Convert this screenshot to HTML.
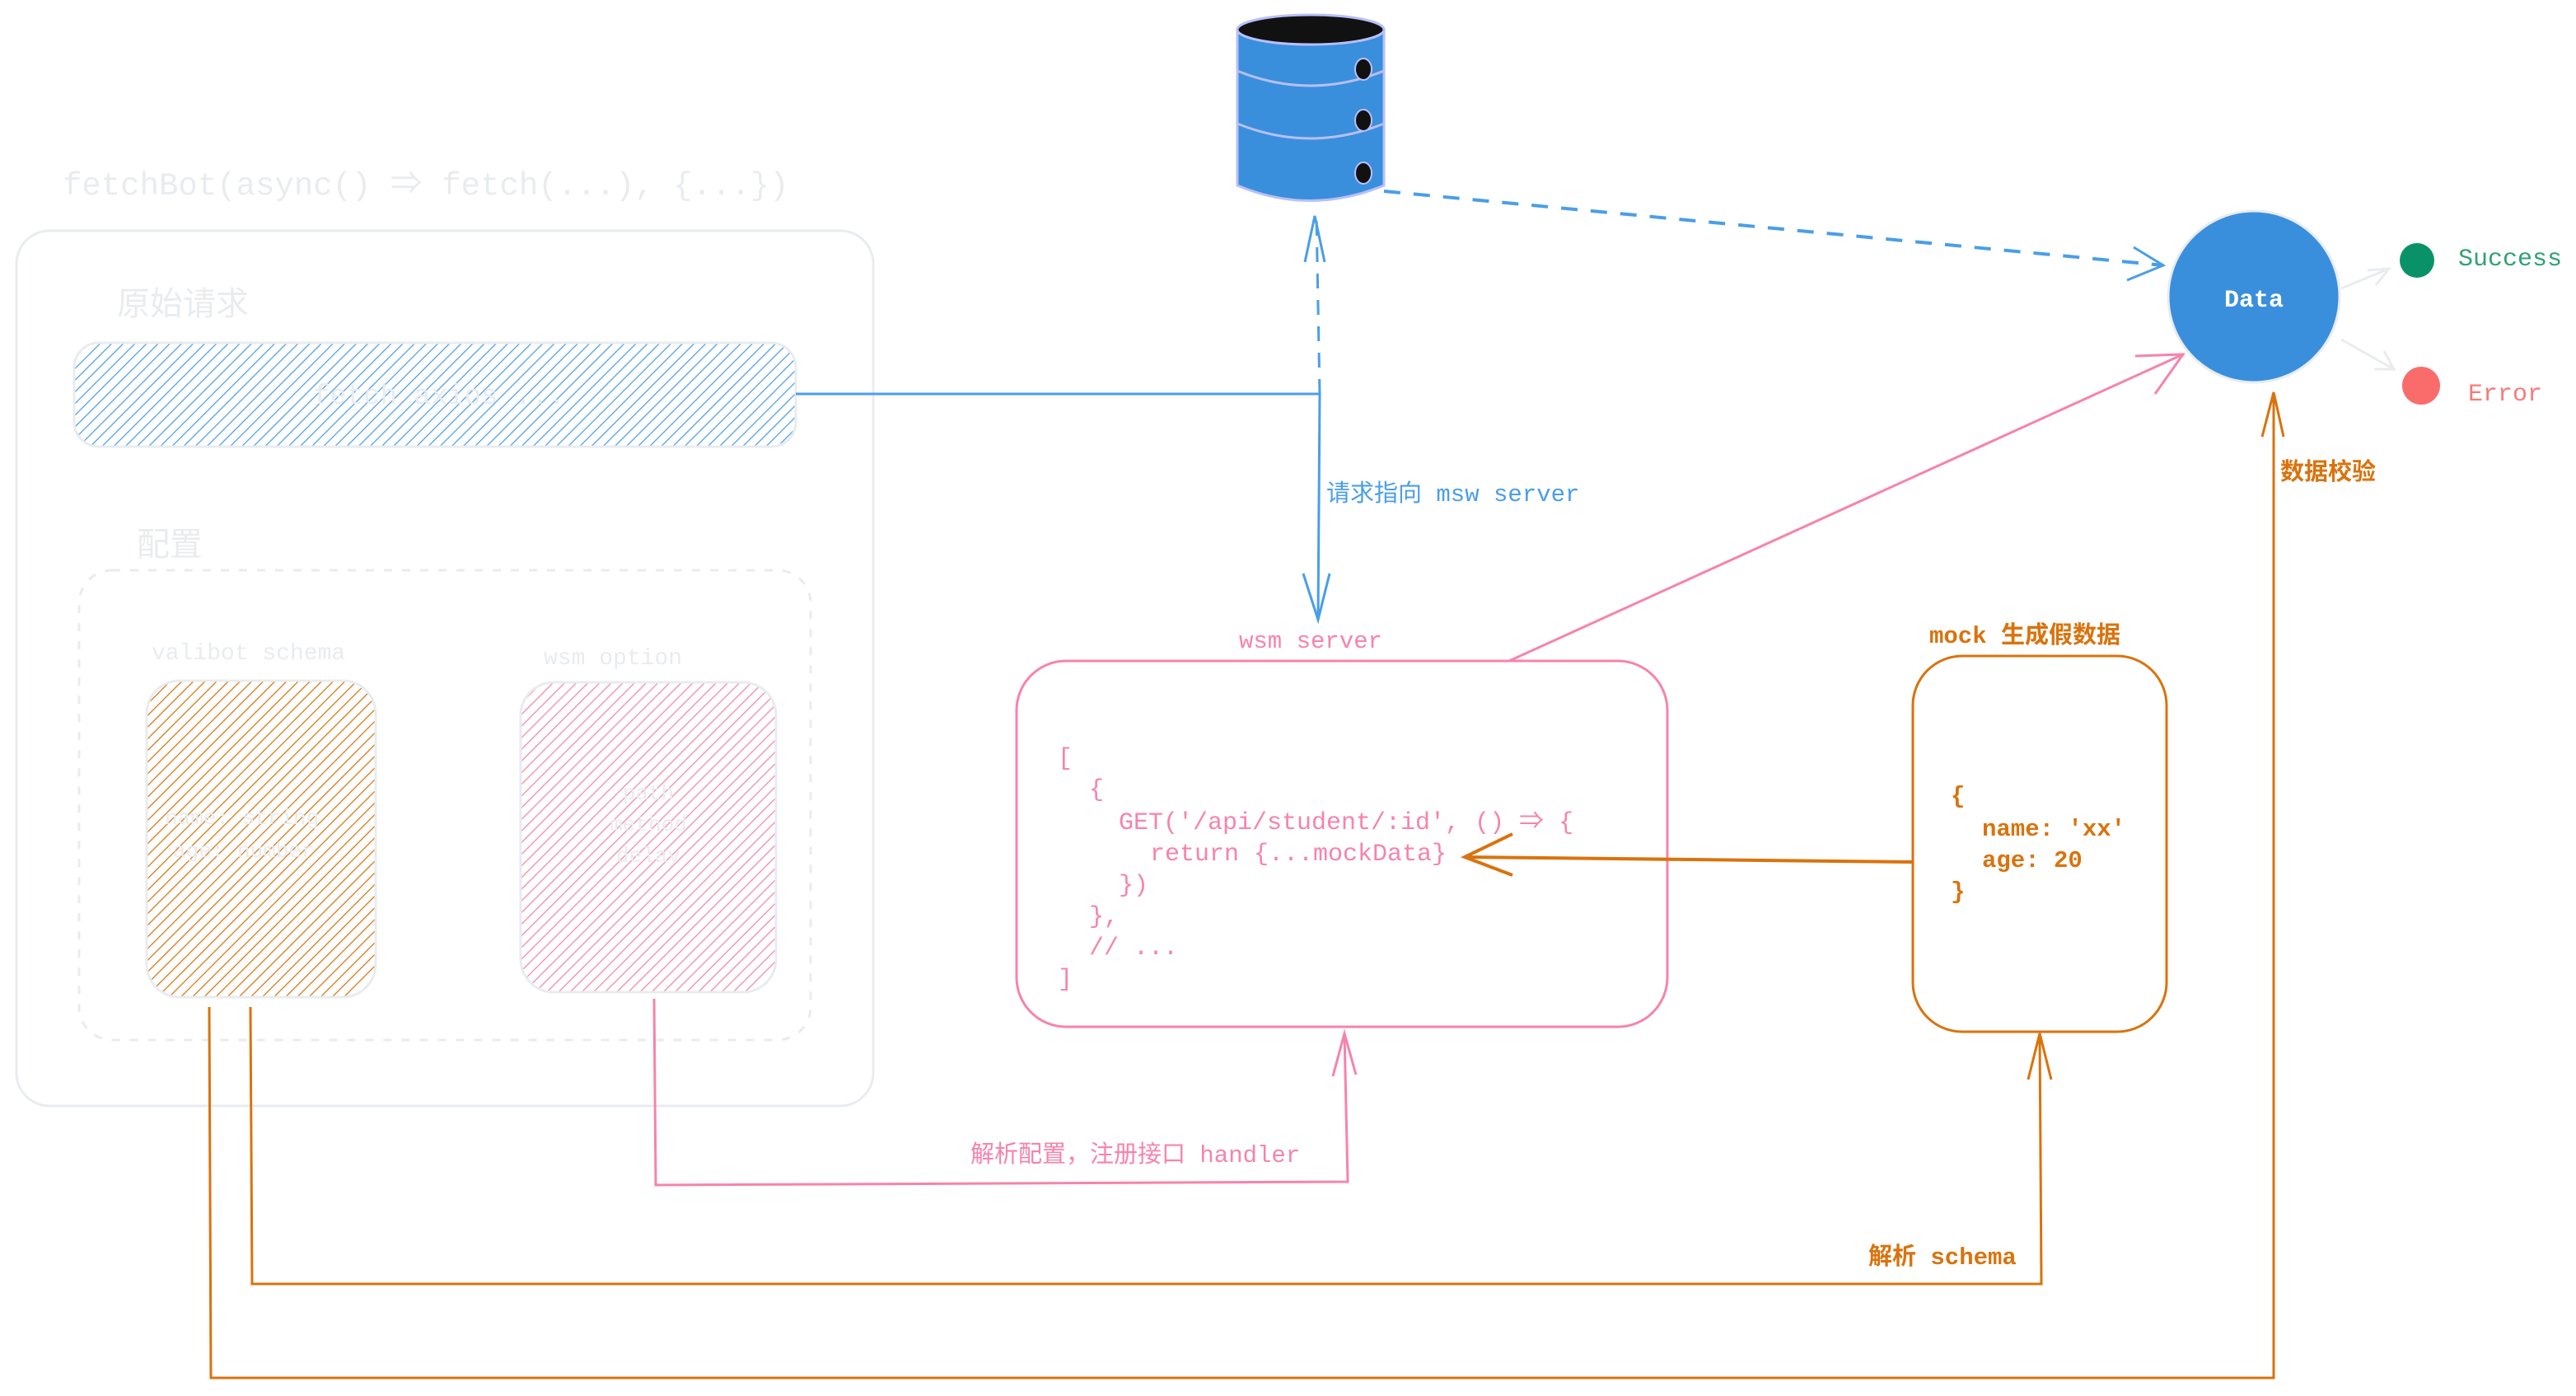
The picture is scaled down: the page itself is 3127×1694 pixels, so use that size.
<!DOCTYPE html>
<html><head><meta charset="utf-8"><style>
html,body{margin:0;padding:0;background:#fff;}
svg{display:block;}
text{font-family:"Liberation Mono","Noto Sans CJK SC",monospace;}
</style></head><body>
<svg width="3127" height="1694" viewBox="0 0 3127 1694" xmlns="http://www.w3.org/2000/svg">
<defs>
<pattern id="hb" width="10" height="10" patternUnits="userSpaceOnUse" patternTransform="rotate(45)"><line x1="0" y1="0" x2="0" y2="10" stroke="#4a9ee8" stroke-width="2.5"/></pattern>
<pattern id="ho" width="10" height="10" patternUnits="userSpaceOnUse" patternTransform="rotate(45)"><line x1="0" y1="0" x2="0" y2="10" stroke="#d9730d" stroke-width="2.5"/></pattern>
<pattern id="hp" width="10" height="10" patternUnits="userSpaceOnUse" patternTransform="rotate(45)"><line x1="0" y1="0" x2="0" y2="10" stroke="#f783ac" stroke-width="2.5"/></pattern>
</defs>

<text x="76" y="236" font-size="39" fill="#e9ecef">fetchBot(async() ⇒ fetch(...), {...})</text>
<rect x="20" y="280" width="1040" height="1062" rx="40" fill="none" stroke="#e9ecef" stroke-width="3"/>
<text x="142" y="382" font-size="40" fill="#e9ecef">原始请求</text>
<rect x="90" y="416" width="876" height="126" rx="30" fill="url(#hb)" stroke="#e9ecef" stroke-width="3"/>
<text x="380" y="490" font-size="34" fill="#e9ecef">fetch axios ...</text>
<text x="166" y="674" font-size="40" fill="#e9ecef">配置</text>
<rect x="96" y="692" width="888" height="570" rx="40" fill="none" stroke="#e9ecef" stroke-width="3" stroke-dasharray="10 12"/>
<text x="184" y="800" font-size="28" fill="#e9ecef">valibot schema</text>
<text x="660" y="806" font-size="28" fill="#e9ecef">wsm option</text>
<rect x="178" y="826" width="278" height="384" rx="40" fill="url(#ho)" stroke="#e9ecef" stroke-width="3"/>
<text x="200" y="1000" font-size="26" fill="#e9ecef">name: string</text>
<text x="210" y="1040" font-size="26" fill="#e9ecef">age: number</text>
<rect x="632" y="828" width="310" height="376" rx="40" fill="url(#hp)" stroke="#e9ecef" stroke-width="3"/>
<text x="787" y="970" font-size="26" fill="#e9ecef" text-anchor="middle">path</text>
<text x="787" y="1008" font-size="26" fill="#e9ecef" text-anchor="middle">method</text>
<text x="787" y="1046" font-size="26" fill="#e9ecef" text-anchor="middle">delay</text>

<path d="M966 478 L1602 478 L1600 750" fill="none" stroke="#4a9ee8" stroke-width="3"/>
<path d="M1582 696 L1600 752 L1614 696" fill="none" stroke="#4a9ee8" stroke-width="3"/>
<path d="M1602 478 L1598 262" fill="none" stroke="#4a9ee8" stroke-width="3" stroke-dasharray="18 14"/>
<path d="M1584 318 L1596 262 L1608 318" fill="none" stroke="#4a9ee8" stroke-width="3"/>
<text x="1610" y="608" font-size="29" fill="#4a9ee8">请求指向 msw server</text>

<path d="M1502 36 L1502 225 Q1590 262 1680 225 L1680 36 Z" fill="#3a8fdc" stroke="#b8bff8" stroke-width="3"/>
<ellipse cx="1591" cy="36" rx="89" ry="18" fill="#111" stroke="#b8bff8" stroke-width="3"/>
<path d="M1502 86 Q1590 122 1680 86 M1502 150 Q1590 186 1680 150" fill="none" stroke="#b8bff8" stroke-width="3"/>
<ellipse cx="1655" cy="84" rx="10" ry="13" fill="#111" stroke="#b8bff8" stroke-width="2"/>
<ellipse cx="1655" cy="146" rx="10" ry="13" fill="#111" stroke="#b8bff8" stroke-width="2"/>
<ellipse cx="1655" cy="210" rx="10" ry="13" fill="#111" stroke="#b8bff8" stroke-width="2"/>

<path d="M1680 232 L2626 322" fill="none" stroke="#4a9ee8" stroke-width="4" stroke-dasharray="20 16"/>
<path d="M2590 300 L2626 322 L2582 340" fill="none" stroke="#4a9ee8" stroke-width="3"/>

<circle cx="2736" cy="360" r="104" fill="#3a8fdc" stroke="#e9ecef" stroke-width="3"/>
<text x="2736" y="372" font-size="30" font-weight="bold" fill="#fff" text-anchor="middle">Data</text>
<path d="M2842 350 L2900 326 M2874 328 L2900 326 L2884 346" fill="none" stroke="#e9ecef" stroke-width="3"/>
<path d="M2842 412 L2906 448 M2882 448 L2906 448 L2894 426" fill="none" stroke="#e9ecef" stroke-width="3"/>
<circle cx="2934" cy="316" r="21" fill="#099268"/>
<text x="2984" y="322" font-size="30" fill="#2fa272">Success</text>
<circle cx="2939" cy="468" r="23" fill="#fa6c6c"/>
<text x="2996" y="486" font-size="30" fill="#f77a7a">Error</text>

<text x="1504" y="786" font-size="29" fill="#f783ac">wsm server</text>
<rect x="1234" y="802" width="790" height="444" rx="60" fill="none" stroke="#f783ac" stroke-width="3"/>
<g font-size="30" fill="#f783ac">
<text x="1284" y="928">[</text>
<text x="1322" y="966">{</text>
<text x="1358" y="1006">GET('/api/student/:id', () ⇒ {</text>
<text x="1396" y="1044">return {...mockData}</text>
<text x="1358" y="1082">})</text>
<text x="1322" y="1120">},</text>
<text x="1322" y="1158">// ...</text>
<text x="1284" y="1196">]</text>
</g>
<path d="M1832 802 L2650 430" fill="none" stroke="#f783ac" stroke-width="3"/>
<path d="M2592 432 L2650 430 L2616 478" fill="none" stroke="#f783ac" stroke-width="3"/>

<text x="2342" y="780" font-size="29" font-weight="bold" fill="#d9730d">mock 生成假数据</text>
<rect x="2322" y="796" width="308" height="456" rx="60" fill="none" stroke="#d9730d" stroke-width="3"/>
<g font-size="29" font-weight="bold" fill="#d9730d">
<text x="2368" y="974">{</text>
<text x="2406" y="1014">name: 'xx'</text>
<text x="2406" y="1052">age: 20</text>
<text x="2368" y="1090">}</text>
</g>
<path d="M2322 1046 L1778 1040" fill="none" stroke="#d9730d" stroke-width="4"/>
<path d="M1836 1012 L1778 1040 L1836 1062" fill="none" stroke="#d9730d" stroke-width="4"/>

<path d="M794 1212 L796 1438 L1636 1434 L1632 1254" fill="none" stroke="#f783ac" stroke-width="3"/>
<path d="M1618 1306 L1632 1254 L1646 1304" fill="none" stroke="#f783ac" stroke-width="3"/>
<text x="1178" y="1410" font-size="29" fill="#f783ac">解析配置，注册接口 handler</text>

<path d="M304 1222 L306 1558 L2478 1558 L2476 1254" fill="none" stroke="#d9730d" stroke-width="3"/>
<path d="M2462 1310 L2476 1254 L2490 1310" fill="none" stroke="#d9730d" stroke-width="3"/>
<text x="2268" y="1534" font-size="29" font-weight="bold" fill="#d9730d">解析 schema</text>
<path d="M254 1222 L256 1672 L2760 1672 L2760 476" fill="none" stroke="#d9730d" stroke-width="3"/>
<path d="M2746 530 L2760 476 L2772 530" fill="none" stroke="#d9730d" stroke-width="3"/>
<text x="2768" y="582" font-size="29" font-weight="bold" fill="#d9730d">数据校验</text>
</svg>
</body></html>
